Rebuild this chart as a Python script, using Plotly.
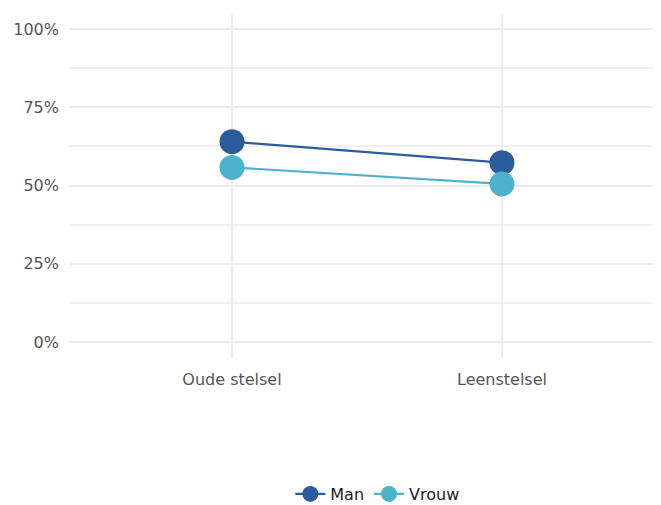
import plotly.graph_objects as go

categories = ["Oude stelsel", "Leenstelsel"]
man = [64.0, 57.3]
vrouw = [55.8, 50.5]
y_ticks = [0, 25, 50, 75, 100]
y_tick_labels = ["0%", "25%", "50%", "75%", "100%"]

fig = go.Figure()
fig.add_trace(go.Scatter(x=categories, y=man, name="Man", mode="lines+markers",
                         line=dict(color="#2C5C9C", width=2.2),
                         marker=dict(size=25, color="#2C5C9C")))
fig.add_trace(go.Scatter(x=categories, y=vrouw, name="Vrouw", mode="lines+markers",
                         line=dict(color="#4DB2CC", width=2.2),
                         marker=dict(size=25, color="#4DB2CC")))

fig.update_layout(
    width=653, height=497,
    margin=dict(l=62, r=0, t=6, b=147),
    plot_bgcolor="white", paper_bgcolor="white",
    font=dict(family="Verdana, DejaVu Sans, sans-serif", size=16, color="#555555"),
    showlegend=True,
    legend=dict(orientation="h", x=0.52, xanchor="center", yref="container",
                y=0.022, yanchor="middle",
                font=dict(color="#222222", size=16), itemsizing="trace"),
)
fig.update_xaxes(type="category", range=[-0.6, 1.589], showgrid=True, gridcolor="#EBEBEB",
                 gridwidth=2, zeroline=False, showline=False, ticks="", ticklabelstandoff=10)
fig.update_yaxes(range=[-5.1, 104.8], tickvals=y_ticks, ticktext=y_tick_labels,
                 showgrid=True, gridcolor="#EBEBEB", gridwidth=2, zeroline=False, showline=False,
                 ticks="", ticklabelstandoff=10,
                 minor=dict(tickvals=[12.5, 37.5, 62.5, 87.5], showgrid=True,
                            gridcolor="#F0F0F0", gridwidth=1.5))

fig.write_html("out.html")
